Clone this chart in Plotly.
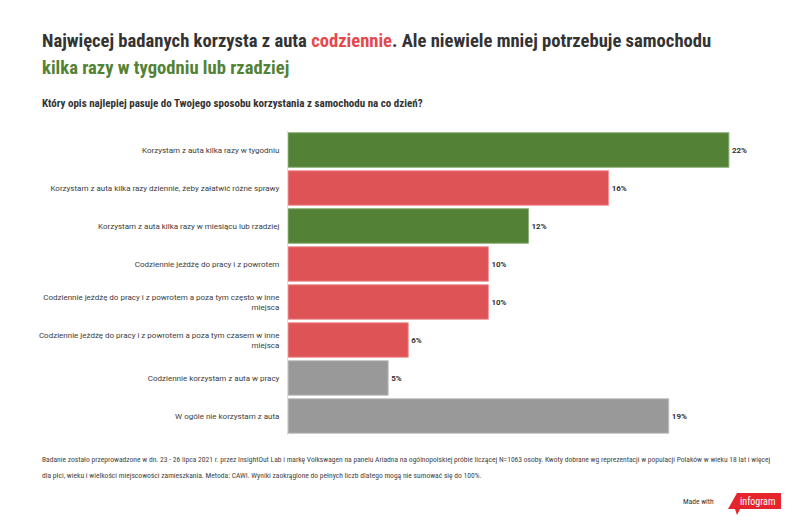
import plotly.graph_objects as go

# survey answers, top to bottom as in the chart
categories = [
    "Korzystam z auta kilka razy w tygodniu",
    "Korzystam z auta kilka razy dziennie, żeby załatwić różne sprawy",
    "Korzystam z auta kilka razy w miesiącu lub rzadziej",
    "Codziennie jeżdżę do pracy i z powrotem",
    "Codziennie jeżdżę do pracy i z powrotem a poza tym często w inne<br>miejsca",
    "Codziennie jeżdżę do pracy i z powrotem a poza tym czasem w inne<br>miejsca",
    "Codziennie korzystam z auta w pracy",
    "W ogóle nie korzystam z auta",
]
values = [22, 16, 12, 10, 10, 6, 5, 19]
groups = ["rzadziej", "codziennie", "rzadziej", "codziennie", "codziennie", "codziennie", "inne", "inne"]

GREEN, RED, GREY = "#538135", "#dd5356", "#999999"
fill = {"rzadziej": GREEN, "codziennie": RED, "inne": GREY}
edge = {"rzadziej": "#8fb27a", "codziennie": "#ee9a9b", "inne": "#c4c4c4"}

COND = "Roboto Condensed, Liberation Sans Narrow, DejaVu Sans Condensed, Roboto, sans-serif"

# page puts the figure 8px in from the top-left corner
OFF = 8
L, R, T, B = 280, 39, 123, 93
W, H = 800 - L - R, 520 - T - B


def px(x, y):
    # screen pixel -> paper coords
    return (x - OFF - L) / W, 1 - (y - OFF - T) / H


fig = go.Figure(go.Bar(
    x=values, y=categories, orientation="h",
    marker=dict(color=[fill[g] for g in groups],
                line=dict(color=[edge[g] for g in groups], width=1)),
    texttemplate="<b>%{x}%</b>", textposition="outside",
    textfont=dict(family="Roboto", size=8, color="#333333"),
    cliponaxis=False, hoverinfo="skip",
))

fig.update_layout(
    width=800, height=520, autosize=False,
    margin=dict(l=L, r=R, t=T, b=B),
    paper_bgcolor="white", plot_bgcolor="white",
    showlegend=False, bargap=0.09,
    xaxis=dict(range=[0, 24], visible=False),
    yaxis=dict(autorange="reversed", showline=True, linecolor="#dddddd", linewidth=1,
               ticks="", ticklabelstandoff=6,
               tickfont=dict(family="Roboto", size=8, color="#3c3c3c")),
)

notes = [
    dict(text="<b>Najwięcej badanych korzysta z auta <span style='color:#e5484d'>codziennie</span>."
              " Ale niewiele mniej potrzebuje samochodu</b>", y=41, size=18.6, color="#333333"),
    dict(text="<b>kilka razy w tygodniu lub rzadziej</b>", y=68, size=18.6, color="#548235"),
    dict(text="<b>Który opis najlepiej pasuje do Twojego sposobu korzystania z samochodu na co dzień?</b>",
         y=103, size=11, color="#333333"),
    dict(text="Badanie zostało przeprowadzone w dn. 23 - 26 lipca 2021 r. przez InsightOut Lab i markę Volkswagen"
              " na panelu Ariadna na ogólnopolskiej próbie liczącej N=1063 osoby. Kwoty dobrane wg reprezentacji"
              " w populacji Polaków w wieku 18 lat i więcej", y=460, size=7.55, color="#444444"),
    dict(text="dla płci, wieku i wielkości miejscowości zamieszkania. Metoda: CAWI. Wyniki zaokrąglone do pełnych"
              " liczb dlatego mogą nie sumować się do 100%.", y=475, size=7.55, color="#444444"),
]
for n in notes:
    x0, y0 = px(40, n["y"])
    fig.add_annotation(text=n["text"], xref="paper", yref="paper", x=x0, y=y0,
                       xanchor="left", yanchor="middle", align="left", showarrow=False,
                       font=dict(family=COND, size=n["size"], color=n["color"]))

# "Made with infogram" badge
x0, y0 = px(716, 501)
fig.add_annotation(text="Made with", xref="paper", yref="paper", x=x0, y=y0,
                   xanchor="right", yanchor="middle", showarrow=False,
                   font=dict(family=COND, size=7.5, color="#333333"))
pts = [(737, 493), (781, 493), (781, 509), (740, 509), (737, 515), (735, 509), (728, 509)]
path = "M " + " L ".join("%f,%f" % px(x, y) for x, y in pts) + " Z"
fig.add_shape(type="path", path=path, xref="paper", yref="paper",
              fillcolor="#e5242c", line=dict(width=0))
x0, y0 = px(757, 501)
fig.add_annotation(text="infogram", xref="paper", yref="paper", x=x0, y=y0,
                   xanchor="center", yanchor="middle", showarrow=False,
                   font=dict(family=COND, size=10, color="white"))

fig.write_html("out.html")
